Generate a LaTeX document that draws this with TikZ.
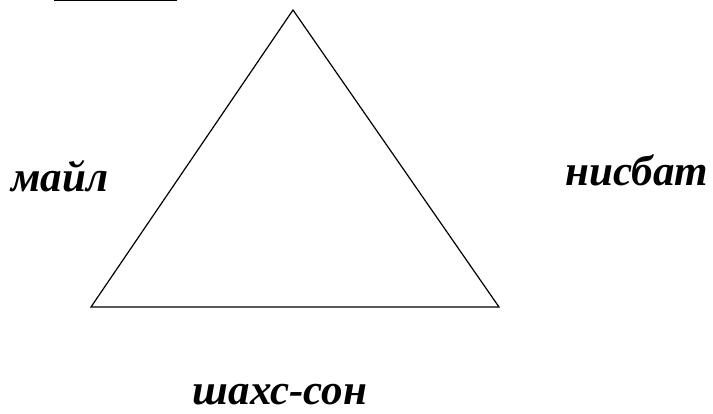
\documentclass[tikz,border=0pt]{standalone}
\usepackage{fontspec}
\setmainfont{Liberation Serif}
\usepackage{tikz}
\usetikzlibrary{positioning}

\tikzset{
	label text/.style={font=\fontsize{43}{43}\selectfont\bfseries\itshape, inner sep=0pt, anchor=base}
}

\begin{document}
\begin{tikzpicture}[x=1pt, y=1pt]
		\useasboundingbox (0,0) rectangle (713,414);
		
		% line at the upper edge
		\coordinate (L1) at (54,413.4);
		\coordinate (L2) at (177,413.4);
		\draw[line width=1.2pt] (L1) -- (L2);
		
		% triangle
		\coordinate (T) at (293,404);
		\coordinate (BL) at (91,107);
		\coordinate (BR) at (499,107);
		\draw[line width=1.2pt, line join=miter] (T) -- (BL) -- (BR) -- cycle;
		
		% labels
		\node[label text] (mail) at (60,222) {майл};
		\node[label text] (nisbat) at (637,228) {нисбат};
		\node[label text] (shakhs) at (280,9) {шахс-сон};
	\end{tikzpicture}
\end{document}
